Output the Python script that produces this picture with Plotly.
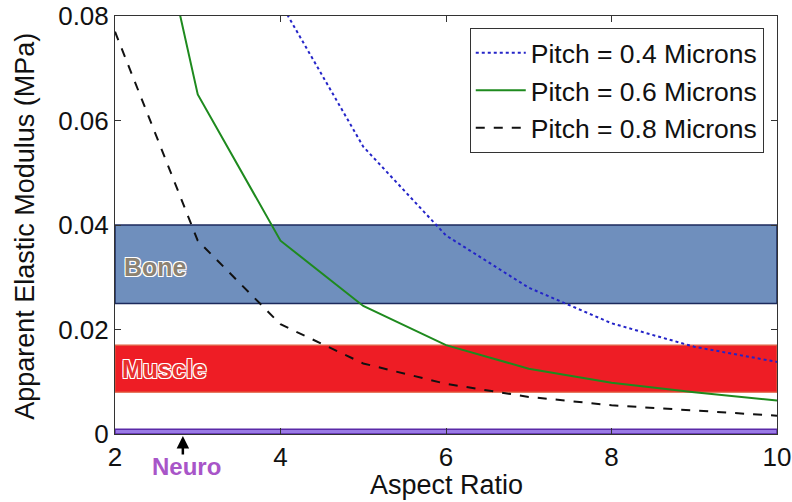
import plotly.graph_objects as go

aspect = [2, 3, 4, 5, 6, 7, 8, 9, 10]
pitch_04 = [0.30, 0.15, 0.0825, 0.055, 0.038, 0.028, 0.0212, 0.0167, 0.0138]
pitch_06 = [0.136, 0.065, 0.037, 0.0245, 0.017, 0.0125, 0.0098, 0.008, 0.0064]
pitch_08 = [0.077, 0.037, 0.021, 0.0135, 0.0096, 0.0071, 0.0055, 0.0045, 0.0035]

bands = {"Bone": (0.025, 0.040), "Muscle": (0.008, 0.017), "Neuro": (0.0, 0.0009)}
y_ticks = [0, 0.02, 0.04, 0.06, 0.08]
y_tick_text = ["0", "0.02", "0.04", "0.06", "0.08"]
x_ticks = [2, 4, 6, 8, 10]
neuro_x = 2.82

FONT = "Liberation Sans, Arial, sans-serif"

fig = go.Figure()
fig.add_trace(go.Scatter(x=aspect, y=pitch_04, mode="lines", name="Pitch = 0.4 Microns",
                         line=dict(color="#2424c8", width=2, dash="dot")))
fig.add_trace(go.Scatter(x=aspect, y=pitch_06, mode="lines", name="Pitch = 0.6 Microns",
                         line=dict(color="#1e8a1e", width=2)))
fig.add_trace(go.Scatter(x=aspect, y=pitch_08, mode="lines", name="Pitch = 0.8 Microns",
                         line=dict(color="#111111", width=2, dash="dash")))

b0, b1 = bands["Bone"]
fig.add_shape(type="rect", xref="x", yref="y", x0=2, x1=10, y0=b0, y1=b1,
              fillcolor="#6f8fbd", line=dict(color="#1c2a5c", width=1.5), layer="below")
m0, m1 = bands["Muscle"]
fig.add_shape(type="rect", xref="x", yref="y", x0=2, x1=10, y0=m0, y1=m1,
              fillcolor="#ee1d25", line=dict(color="#e06040", width=1.2), layer="below")
n0, n1 = bands["Neuro"]
fig.add_shape(type="rect", xref="x", yref="y", x0=2, x1=10, y0=n0, y1=n1,
              fillcolor="#9a7ae6", line=dict(color="#5a2aa8", width=1.5), layer="below")

outline = "-1px -1px 0 #ffffff, 1px -1px 0 #ffffff, -1px 1px 0 #ffffff, 1px 1px 0 #ffffff"
fig.add_annotation(x=2.08, y=(b0 + b1) / 2 - 0.0005, xref="x", yref="y", text="<b>Bone</b>",
                   showarrow=False, xanchor="left",
                   font=dict(family=FONT, size=25, color="#8c8272", shadow=outline))
fig.add_annotation(x=2.06, y=(m0 + m1) / 2, xref="x", yref="y", text="<b>Muscle</b>",
                   showarrow=False, xanchor="left",
                   font=dict(family=FONT, size=25, color="#e8302e", shadow=outline))
fig.add_annotation(x=neuro_x + 0.05, y=-0.0766, xref="x", yref="paper", text="<b>Neuro</b>",
                   showarrow=False, xanchor="center", yanchor="middle",
                   font=dict(family=FONT, size=24, color="#a855c8"))
fig.add_annotation(x=neuro_x, y=-0.005, xref="x", yref="paper", text="",
                   showarrow=True, arrowhead=2, arrowsize=1, arrowwidth=2.5,
                   arrowcolor="#000000", ax=0, ay=20)

# axis titles
fig.add_annotation(x=0.5, y=-0.121, xref="paper", yref="paper", text="Aspect Ratio",
                   showarrow=False, xanchor="center", yanchor="middle",
                   font=dict(family=FONT, size=27, color="#111111"))
fig.add_annotation(x=-0.136, y=0.498, xref="paper", yref="paper",
                   text="Apparent Elastic Modulus (MPa)", textangle=-90,
                   showarrow=False, xanchor="center", yanchor="middle",
                   font=dict(family=FONT, size=27, color="#111111"))

axis_common = dict(showline=True, linecolor="#333333", linewidth=1, mirror="ticks",
                   ticks="inside", ticklen=6, tickcolor="#333333", showgrid=False,
                   zeroline=False, automargin=False,
                   tickfont=dict(family=FONT, size=26, color="#111111"))

fig.update_layout(
    width=792, height=502,
    margin=dict(l=115, r=15, t=16, b=68),
    paper_bgcolor="white", plot_bgcolor="white",
    xaxis=dict(range=[2, 10], tickvals=x_ticks, **axis_common),
    yaxis=dict(range=[0, 0.08], tickvals=y_ticks, ticktext=y_tick_text, **axis_common),
    legend=dict(x=0.98, y=0.971, xanchor="right", yanchor="top", bgcolor="white",
                bordercolor="#333333", borderwidth=1,
                font=dict(family=FONT, size=26.5, color="#111111"),
                itemwidth=50, tracegroupgap=0),
    showlegend=True,
)

fig.write_html("out.html", config={"displayModeBar": False},
               post_script="document.body.style.margin='0';document.body.style.overflow='hidden';")
